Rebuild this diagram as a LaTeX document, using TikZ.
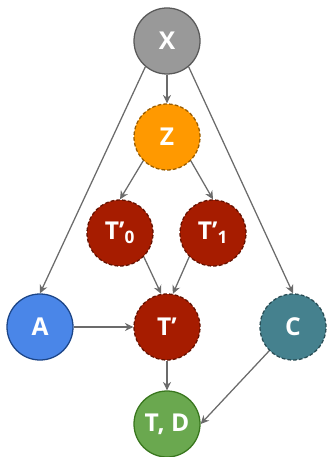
\documentclass[tikz,border=0pt]{standalone}
\usepackage{fontspec}
\setmainfont{Open Sans}
\usetikzlibrary{arrows.meta}
\definecolor{stone}{HTML}{999999}
\definecolor{stoneline}{HTML}{595959}
\definecolor{tangerine}{HTML}{FF9900}
\definecolor{rust}{HTML}{A61C00}
\definecolor{sky}{HTML}{4A86E8}
\definecolor{skyline}{HTML}{1C4587}
\definecolor{teal}{HTML}{45818E}
\definecolor{moss}{HTML}{6AA84F}
\definecolor{mossline}{HTML}{38761D}
\definecolor{wire}{HTML}{6B6B6B}
\tikzset{
  >={Stealth[length=2.1mm,width=2mm]},
  var/.style={circle,draw=#1!60!black,fill=#1,line width=0.9pt,minimum size=1.65cm,
    inner sep=0pt,text=white,font=\fontsize{17.5}{19}\selectfont\bfseries},
  hidden/.style={var=#1,dashed,dash pattern=on 2.6pt off 1.5pt},
  link/.style={->,draw=wire,line width=0.9pt},
}
\begin{document}
\begin{tikzpicture}[x=0.025cm,y=-0.025cm]
  \useasboundingbox (0,0) rectangle (327,457);
  % nodes
  \node[var=stone,draw=stoneline] (x) at (167,41) {X};
  \node[hidden=tangerine] (z) at (167,137) {Z};
  \node[hidden=rust] (t0) at (120,233) {T’\textsubscript{0}};
  \node[hidden=rust] (t1) at (213,233) {T’\textsubscript{1}};
  \node[var=sky,draw=skyline] (a) at (40,327) {A};
  \node[hidden=rust] (tp) at (167,327) {T’};
  \node[hidden=teal] (c) at (293,327) {C};
  \node[var=moss,draw=mossline] (td) at (167,424) {T, D};
  % edges
  \draw[link] (x) -- (z);
  \draw[link] (x.-130) -- (a.north);
  \draw[link] (x.-50) -- (c.north);
  \draw[link] (z.south west) -- (t0.north);
  \draw[link] (z.south east) -- (t1.north);
  \draw[link] (t0.south east) -- (tp.100);
  \draw[link] (t1.south west) -- (tp.80);
  \draw[link] (a) -- (tp);
  \draw[link] (tp) -- (td);
  \draw[link] (c.south west) -- (td.east);
\end{tikzpicture}
\end{document}
